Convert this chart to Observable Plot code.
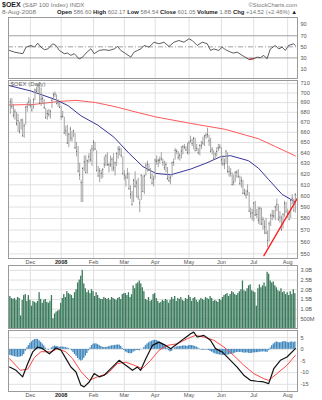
<!DOCTYPE html>
<html><head><meta charset="utf-8">
<script src="https://cdn.jsdelivr.net/npm/d3@7"></script>
<script src="https://cdn.jsdelivr.net/npm/@observablehq/plot@0.6"></script>
<style>
body{margin:0;background:#fff;font-family:"Liberation Sans",Arial,sans-serif;}
#wrap{position:relative;width:322px;height:400px;overflow:hidden;background:#fff}
.panel{position:absolute;left:0}
</style></head><body><div id="wrap"></div>
<script>
// ---------- data ----------
const firstDay = -13; // trading-day index (0 = 3-Dec-2007)
const monthIdx = [0,20,41,61,81,103,124,145,167];
const monthLabels = ["Dec","2008","Feb","Mar","Apr","May","Jun","Jul","Aug"];
const priceTicks = [710,700,690,680,670,660,650,640,630,620,610,600,590,580,570,560,550];
const rsiTicks = [90,70,50,30,10];
const volTicks = [3.0,2.5,2.0,1.5,1.0,0.5];
const volLabels = ["3.0B","2.5B","2.0B","1.5B","1.0B","500M"];
const macdTicks = [5,0,-5,-10,-15];

const close = [
690.9,686.0,677.0,680.5,668.6,671.6,660.9,672.1,656.5,666.3,685.3,685.6,690.9,
686.9,682.4,692.7,703.2,701.9,707.2,689.3,693.5,694.3,684.8,674.5,678.8,677.8,681.1,692.5,698.1,698.7,688.7,689.7,685.0,
675.8,675.8,659.2,661.4,649.2,658.0,663.3,654.3,661.4,644.9,641.3,622.6,618.9,612.0,625.1,631.4,621.4,632.3,636.2,633.2,643.8,
650.3,643.5,622.9,618.1,623.0,620.4,624.0,628.6,637.1,628.6,628.6,628.5,633.8,625.6,630.5,639.3,643.7,643.1,637.3,620.1,
619.0,616.9,620.2,606.5,601.4,592.1,614.1,608.6,611.7,599.0,593.6,618.8,603.8,618.2,627.7,629.1,623.6,616.5,611.6,615.1,
633.0,631.8,632.6,633.1,634.1,630.9,625.8,628.6,615.8,613.7,616.5,630.5,630.9,642.3,641.3,635.7,637.5,641.6,645.8,645.1,642.6,640.1,
649.7,651.8,648.9,653.9,642.0,644.3,640.0,647.1,646.8,649.4,656.3,657.1,657.7,651.6,641.1,642.8,634.3,638.6,641.2,644.6,645.6,
633.3,629.6,629.4,641.6,621.8,622.3,620.8,610.3,612.3,621.5,621.6,617.4,611.4,613.7,602.3,602.3,600.6,604.2,586.4,584.2,585.0,
593.6,582.8,583.5,578.6,588.5,575.1,579.1,572.6,567.5,561.3,575.4,582.3,582.4,582.1,590.0,592.4,578.7,581.1,570.3,583.6,593.3,585.5,
584.4,579.2,595.8,597.8,586.5,601.05];
const high = [
694,694,688,683,680,678,670,673,673,668,686,690,695,
693,687,694,704,706,709,711,705,696,693,684,682,683,682,693,700,701,698,693,690,
686,681,675,666,667,659,665,661,662,659,650,646,630,614,626,637,637,633,639,643,647,
652,650,642,627,625,623,625,636,638,640,630,637,635,639,631,640,646,646,644,636,
623,619,625,621,609,604,615,622,614,616,597,619,618,619,630,632,629,625,620,618,
634,637,634,636,640,634,632,631,626,618,618,631,634,644,643,641,639,646,647,648,646,649,
651,656,653,655,654,648,644,648,651,655,657,659,664,657,654,645,642,640,645,648,648,
645,637,634,642,640,627,625,621,619,622,623,624,618,617,614,606,605,610,603,589,588,
594,595,588,590,590,589,581,578,580,569,577,584,587,587,591,597,592,586,582,584,595,594,
588,586,596,601,597,602.17];
const low = [
678,683,674,672,666,660,658,662,655,654,667,680,686,
684,680,683,692,699,700,688,686,688,683,673,672,675,673,684,692,695,688,685,684,
672,674,658,656,648,645,651,650,655,643,636,621,614,594,594,622,620,620,630,631,627,
641,642,622,617,612,615,616,625,627,627,621,626,622,622,618,627,634,637,635,619,
614,608,615,605,597,591,594,607,598,596,585,596,603,601,618,622,622,615,610,608,
615,628,626,629,632,627,623,621,614,612,610,617,627,633,638,633,632,634,638,643,641,638,
638,649,646,643,641,641,638,637,643,647,646,653,654,646,640,638,633,633,636,641,643,
628,627,624,629,621,617,617,609,609,612,616,616,609,607,601,600,597,600,585,580,578,
577,582,580,575,574,574,570,566,566,555,560,573,578,580,578,586,578,576,569,571,581,585,
580,578,580,592,586,584.54];
const volume = [ // billions
1.65,1.55,1.5,1.55,1.45,1.6,1.55,0.65,1.45,1.7,1.75,1.4,1.7,
1.45,1.15,1.4,1.35,1.3,1.4,1.85,1.5,1.3,1.45,1.5,1.35,1.3,1.4,1.7,0.5,0.75,0.85,0.9,0.95,
1.3,1.55,1.75,1.6,1.9,1.8,1.75,1.7,1.55,1.85,2.0,2.35,2.5,2.7,3.0,2.3,2.05,1.85,1.95,1.8,2.0,
1.9,1.65,1.85,1.7,1.55,1.5,1.5,1.6,1.55,1.5,1.55,1.45,1.6,1.55,1.5,1.45,1.55,1.6,1.5,1.75,
1.8,1.8,1.7,1.85,1.6,1.75,2.2,2.05,2.3,2.35,2.45,2.3,2.1,1.9,1.5,1.45,1.6,1.4,1.45,1.75,
1.8,1.55,1.4,1.3,1.35,1.45,1.4,1.5,1.45,1.3,1.45,1.6,1.5,1.65,1.4,1.55,1.5,1.6,1.45,1.4,1.55,1.5,
1.7,1.6,1.4,1.55,1.6,1.45,1.35,1.45,1.55,1.5,1.45,1.6,1.55,1.5,1.65,1.55,1.4,1.45,1.4,1.35,1.5,
1.45,1.6,1.7,1.75,1.8,1.65,1.75,1.9,1.85,1.75,1.7,1.8,1.9,2.0,2.45,1.95,1.9,2.05,2.2,2.25,1.95,
1.9,1.85,1.15,2.05,2.25,2.1,2.2,2.35,2.15,2.9,2.8,2.45,2.35,2.4,2.2,2.1,1.95,1.9,2.05,1.85,1.9,1.75,
1.85,1.7,1.9,1.75,2.0,1.8];
const histogram = [
-2.6,-2.8,-3.0,-3.2,-3.3,-3.4,-3.4,-3.2,-3.0,-2.2,-0.8,0.6,1.6,
2.5,3.2,3.8,4.2,4.3,4.2,3.6,3.0,2.3,1.5,0.6,0.1,-0.3,-0.1,0.6,1.1,1.4,1.3,1.1,0.9,
1.0,1.0,0.9,0.8,0.6,0.4,0.1,-0.6,-1.4,-2.2,-3.0,-3.9,-4.6,-5.0,-4.7,-3.9,-2.9,-1.8,-0.6,0.6,1.6,
2.2,2.4,2.3,2.0,1.6,1.2,0.9,0.8,0.8,0.9,1.1,1.3,1.5,1.6,1.7,1.8,1.9,1.8,1.3,0.4,
-0.5,-1.1,-1.5,-1.8,-1.9,-1.8,-1.2,-0.8,-0.5,-0.5,-0.6,0.1,0.1,0.8,1.6,2.3,2.8,3.2,3.5,3.8,
3.9,3.8,3.5,3.1,2.7,2.3,1.8,1.2,0.4,-0.6,-1.1,-0.8,-0.1,0.6,1.0,1.1,1.2,1.3,1.4,1.5,1.4,1.3,
1.6,1.7,1.6,1.5,1.2,1.0,0.6,0.2,-0.2,-0.4,-0.3,-0.2,-0.3,-0.5,-0.9,-1.2,-1.6,-1.9,-2.1,-2.3,-2.4,
-2.5,-2.6,-2.6,-2.4,-2.5,-2.4,-2.2,-2.1,-1.9,-1.6,-1.4,-1.3,-1.3,-1.3,-1.5,-1.6,-1.6,-1.5,-1.7,-1.8,-1.7,
-1.5,-1.5,-1.4,-1.4,-1.2,-1.2,-1.1,-1.1,-1.2,-1.3,-0.5,0.6,1.6,2.3,2.8,3.2,3.0,2.8,2.9,3.2,3.4,3.2,
3.0,2.8,3.1,3.2,2.9,3.2];

// moving averages (read at points)
const ma50Idx = [-14,0.5,16.6,24.4,32.8,43.8,54.2,63.9,72.9,81.4,91.1,104,114.4,123.4,129.9,141.6,148.1,154.6,163.4,172];
const ma50Val = [707.9,702,692.9,686.9,676.5,667,655.2,639.7,627,620.5,619.2,624.5,630.3,636.2,637.2,632.4,625.3,614.9,601.3,594.5];
const ma200Idx = [-14,2,18.6,29.6,42.5,55.5,68.4,81.4,104,126.7,148.2,159,172];
const ma200Val = [687.5,688,691.2,692.3,690,685.6,680.3,675.3,668.8,662.8,653.5,646,637];
const trendIdx = [151.6,173.2];
const trendVal = [548.5,597.5];

// RSI(14)
const rsiIdx = [-13.6,-10.4,-7.1,-4.9,-2.8,0.5,2.6,4.8,6.9,9.1,11.3,14.5,16.6,18.8,22,24.2,26.3,28.5,31.7,33.9,36.1,39.3,41.4,44.7,47.9,51.1,54.4,56.6,58.7,61.9,65.2,67.3,69.5,71.7,73.8,77,80.3,83.5,86.7,90,93.2,96.4,99.7,102.9,105.1,108.3,111.6,114.8,117,119.1,122.3,124.5,126.7,129.9,132,134.2,137.5,141.8,145,147.2,149.3,151.5,153.6,155.8,159,161.2,163.4,165.5,167.6,170.9,172];
const rsiVal = [43.5,40.5,38.7,37.6,49.4,52.5,49.4,56.6,49.4,44.8,46.2,55.5,52.5,43.5,37.6,38.7,34.6,37.6,28,31.5,38.7,46.5,37.6,43.5,44.8,43.5,46.2,50.7,43.5,37.6,31.5,40.5,43.5,46.2,52.5,49.4,58.4,55.5,58.4,50.7,58.4,61.4,58.4,64.5,61.4,52.5,58.4,55.5,43.5,46.2,43.5,49.4,44.8,40.5,38.7,40.5,34.6,27.4,28.5,31.5,30.3,34.6,28.5,46.2,52.5,46.2,49.4,43.5,52.5,55.5,52.5];

// MACD(12,26,9)
const macdIdx = [-13.5,-9.3,-5,-1.7,1.5,4.8,8,12.3,16.6,19.9,23.1,26.3,29.6,32.8,34.9,38.2,41.4,44.7,47.9,52.2,57.6,61.9,66.3,69.5,71.6,74.9,79.2,83.5,87.8,91.1,95.4,99.7,104,106,108.3,112.6,116.9,120.2,124.5,128.8,134.2,138.5,142.8,147.2,151.5,154.7,158,162.3,166.6,172];
const macdVal = [-7.6,-9.0,-11.8,-6.1,-1.1,1.0,0.3,-1.9,0.6,-0.4,-4,-7.6,-9.7,-15.4,-16.1,-14,-10.4,-11.8,-11.1,-8.3,-4.7,-6.8,-9,-7.6,-9,-4,1.7,3.1,1.7,0.3,2.4,4.6,6.7,7.4,5.3,6.0,3.9,0.3,-1.1,-4,-7.6,-11.1,-13.3,-13.7,-14,-14.7,-8.3,-4.7,-3.3,0.3];
const signalIdx = [-13.5,-6.5,-1.7,2.6,6.9,13.4,17.7,23.1,27.4,32.8,38.2,43.6,50.1,56.5,61.9,67.3,72.7,78.1,83.5,88.9,95.4,101.9,107.2,112.6,119.1,125.6,132,138.5,145,151.5,154.7,160.1,166.6,172];
const signalVal = [-4,-9,-8.5,-3.5,-1.0,-1.1,0.3,-1.1,-4,-9.5,-13.3,-11.8,-10.4,-6.1,-5.5,-6.8,-8.3,-4.7,-0.4,1.7,2.4,4.6,6,5.3,3.9,1,-2.6,-6.8,-10.4,-12.6,-13.3,-10.4,-6.8,-2.6];

// ---------- build ----------
const days = d3.range(firstDay, firstDay + close.length);
const bars = days.map((i, k) => ({i, c: close[k], h: high[k], l: low[k], v: volume[k], hist: histogram[k]}));
const months = monthIdx.map((i, k) => ({i, label: monthLabels[k]}));
const pts = (xs, ys) => xs.map((x, k) => ({x, y: ys[k]}));
const ma50 = pts(ma50Idx, ma50Val), ma200 = pts(ma200Idx, ma200Val), trend = pts(trendIdx, trendVal);
const rsi = pts(rsiIdx, rsiVal), macd = pts(macdIdx, macdVal), signal = pts(signalIdx, signalVal);
const rsiRed = rsi.slice(1).map((d, k) => ({x1: rsi[k].x, y1: rsi[k].y, x2: d.x, y2: d.y}))
  .filter(s => s.y1 <= 31 && s.y2 <= 31);

const FONT = '"Liberation Sans",Arial,sans-serif';
const GRID = "#e0e0e0", FRAME = "#9a9a9a", LABEL = "#555";
const X = {domain: [-14.2, 173.4], axis: null};
const base = {width: 322, marginLeft: 8, marginRight: 25,
  style: {fontFamily: FONT, fontSize: "5.6px", color: LABEL, background: "transparent", overflow: "visible"}};
const wrap = document.getElementById("wrap");
function place(svg, top) { const d = document.createElement("div"); d.className = "panel"; d.style.top = top + "px"; d.appendChild(svg); wrap.appendChild(d); }
const rightLabels = (ticks, fmt) => Plot.text(ticks, {y: d => d, text: fmt || (d => String(d)), frameAnchor: "right", dx: 3, textAnchor: "start", fill: LABEL});
const monthText = (dy) => [
  Plot.text(months.filter(d => d.label !== "2008"), {x: "i", text: "label", frameAnchor: "bottom", dy, lineAnchor: "top", fill: LABEL}),
  Plot.text(months.filter(d => d.label === "2008"), {x: "i", text: "label", frameAnchor: "bottom", dy, lineAnchor: "top", fill: "#222", fontWeight: "bold"})
];

// header
{
  const svg = d3.create("svg").attr("width", 322).attr("height", 17).style("font-family", FONT);
  const t1 = svg.append("text").attr("x", 2).attr("y", 7).attr("font-size", 6.2);
  t1.append("tspan").attr("font-weight", "bold").attr("font-size", 7).attr("fill", "#222").text("$OEX");
  t1.append("tspan").attr("fill", "#777").attr("dx", 2).text("(S&P 100 Index) INDX");
  svg.append("text").attr("x", 297).attr("y", 7).attr("text-anchor", "end").attr("font-size", 5.8).attr("fill", "#777").text("©StockCharts.com");
  svg.append("text").attr("x", 2).attr("y", 14).attr("font-size", 5.8).attr("fill", "#777").attr("textLength", 34).attr("lengthAdjust", "spacingAndGlyphs").text("8-Aug-2008");
  const t2 = svg.append("text").attr("x", 57).attr("y", 14).attr("font-size", 6).attr("textLength", 240).attr("lengthAdjust", "spacingAndGlyphs");
  const parts = [["Open", "586.60"], ["High", "602.17"], ["Low", "584.54"], ["Close", "601.05"], ["Volume", "1.8B"], ["Chg", "+14.52 (+2.46%)"]];
  parts.forEach(([k, v], n) => {
    t2.append("tspan").attr("font-weight", "bold").attr("fill", "#222").text((n ? " " : "") + k + " ");
    t2.append("tspan").attr("fill", "#777").text(v);
  });
  t2.append("tspan").attr("fill", "#222").text(" ▲");
  place(svg.node(), 0);
}

// RSI panel
place(Plot.plot({...base, height: 61, marginTop: 0, marginBottom: 0, x: X,
  y: {domain: [-7.2, 103], axis: null},
  marks: [
    Plot.ruleX(monthIdx, {stroke: GRID}),
    Plot.ruleY([70, 30], {stroke: "#a0a0a0"}),
    Plot.ruleY([50], {stroke: "#a0a0a0", strokeDasharray: "5,2,1,2"}),
    Plot.line(rsi, {x: "x", y: "y", stroke: "#333", strokeWidth: 0.8}),
    Plot.link(rsiRed, {x1: "x1", y1: "y1", x2: "x2", y2: "y2", stroke: "#d02020", strokeWidth: 1}),
    Plot.frame({stroke: FRAME}),
    rightLabels(rsiTicks)
  ]}), 17);

// price panel
place(Plot.plot({...base, height: 186, marginTop: 0, marginBottom: 8, x: X,
  y: {type: "log", domain: [546.2, 713.2], axis: null},
  marks: [
    Plot.ruleX(monthIdx, {stroke: GRID}),
    Plot.ruleY(priceTicks, {stroke: GRID}),
    Plot.line(ma200, {x: "x", y: "y", stroke: "#ff5a5a", strokeWidth: 1}),
    Plot.line(ma50, {x: "x", y: "y", stroke: "#36369a", strokeWidth: 1}),
    Plot.ruleX(bars, {x: "i", y1: "l", y2: "h", stroke: "#9a9a9a", strokeWidth: 0.9}),
    Plot.ruleY(bars, {x1: d => d.i, x2: d => d.i + 0.5, y: "c", stroke: "#444", strokeWidth: 0.9}),
    Plot.line(trend, {x: "x", y: "y", stroke: "#ff1a1a", strokeWidth: 1.3, clip: true}),
    Plot.frame({stroke: FRAME}),
    Plot.text(["$OEX (Daily)"], {frameAnchor: "top-left", dx: 2, dy: 1.5, lineAnchor: "top", fill: "#666", fontSize: 6}),
    rightLabels(priceTicks),
    ...monthText(1.5)
  ]}), 80);

// volume panel
place(Plot.plot({...base, height: 63, marginTop: 0, marginBottom: 0, x: X,
  y: {domain: [0, 3.25], axis: null},
  marks: [
    Plot.ruleX(monthIdx, {stroke: GRID}),
    Plot.ruleY(volTicks, {stroke: GRID}),
    Plot.rect(bars, {x1: d => d.i - 0.42, x2: d => d.i + 0.42, y1: 0, y2: "v", fill: "#3b7a5b"}),
    Plot.frame({stroke: FRAME}),
    rightLabels(volTicks, (d, k) => volLabels[k])
  ]}), 265);

// MACD panel
place(Plot.plot({...base, height: 70, marginTop: 0, marginBottom: 9, x: X,
  y: {domain: [-18.1, 8.1], axis: null},
  marks: [
    Plot.ruleX(monthIdx, {stroke: GRID}),
    Plot.ruleY(macdTicks, {stroke: GRID}),
    Plot.rect(bars, {x1: d => d.i - 0.42, x2: d => d.i + 0.42, y1: 0, y2: "hist", fill: "#3f86bd"}),
    Plot.line(signal, {x: "x", y: "y", stroke: "#ff4848", strokeWidth: 1}),
    Plot.line(macd, {x: "x", y: "y", stroke: "#111", strokeWidth: 1.2}),
    Plot.frame({stroke: FRAME}),
    rightLabels(macdTicks),
    ...monthText(1.5)
  ]}), 330);
</script></body></html>
